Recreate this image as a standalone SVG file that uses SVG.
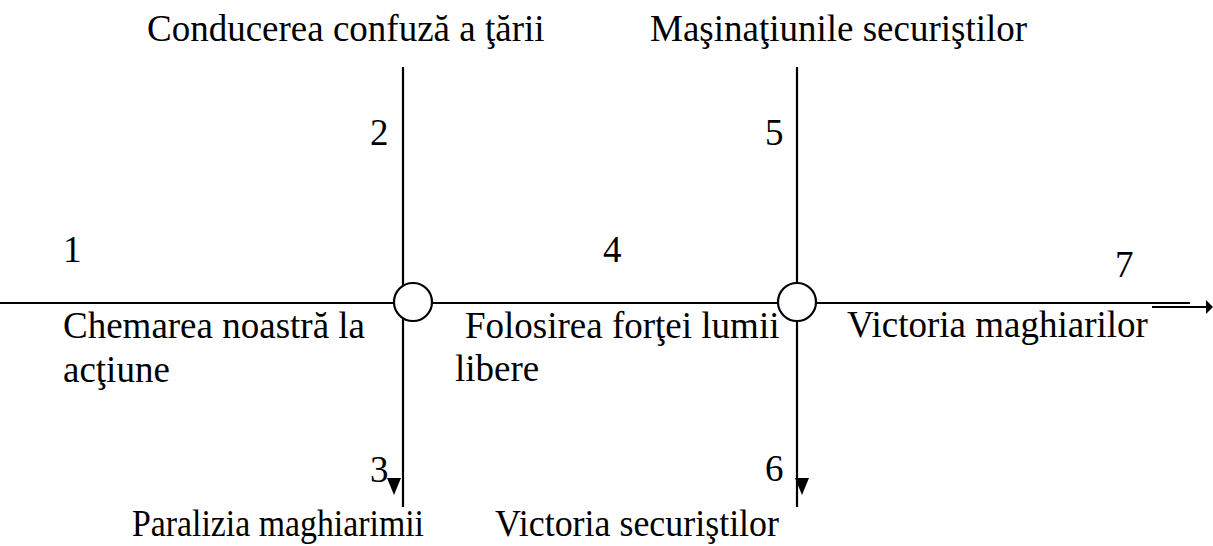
<svg xmlns="http://www.w3.org/2000/svg" width="1213" height="546" viewBox="0 0 1213 546">
<style>
text{font-family:"Liberation Serif","Times New Roman",serif;font-size:37px;fill:#000}
.ln{stroke:#000;stroke-width:2.2;fill:none}
.ah{fill:#000;stroke:none}
.nd{fill:#fff;stroke:#000;stroke-width:2.2}
</style>
<rect width="1213" height="546" fill="#fff"/>
<g id="connectors">
<line class="ln" x1="0" y1="303" x2="394" y2="303"/>
<line class="ln" x1="432" y1="303" x2="778" y2="303"/>
<line class="ln" x1="816" y1="303" x2="1190" y2="303"/>
<line class="ln" x1="1152" y1="307" x2="1208" y2="307"/>
<polygon class="ah" points="1206,300 1213,307 1206,314"/>
<line class="ln" x1="403" y1="67" x2="403" y2="507"/>
<polygon class="ah" points="387,478 401,478 394,495"/>
<line class="ln" x1="797" y1="67" x2="797" y2="507"/>
<polygon class="ah" points="795,478 809,478 802,495"/>
</g>
<g id="node-a"><circle class="nd" cx="413" cy="302" r="19"/></g>
<g id="node-b"><circle class="nd" cx="797" cy="302" r="19"/></g>
<g id="labels">
<text x="147" y="41">Conducerea confuză a ţării</text>
<text x="650" y="41">Maşinaţiunile securiştilor</text>
<text x="370" y="145">2</text>
<text x="765" y="145">5</text>
<text x="63" y="262">1</text>
<text x="603" y="262">4</text>
<text x="1115" y="277">7</text>
<text x="63" y="338">Chemarea noastră la</text>
<text x="63" y="382">acţiune</text>
<text x="465" y="338">Folosirea forţei lumii</text>
<text x="455" y="381">libere</text>
<text x="847" y="337">Victoria maghiarilor</text>
<text x="370" y="482">3</text>
<text x="765" y="481">6</text>
<text x="132" y="536" textLength="292" lengthAdjust="spacingAndGlyphs">Paralizia maghiarimii</text>
<text x="495" y="536" textLength="284" lengthAdjust="spacingAndGlyphs">Victoria securiştilor</text>
</g>
</svg>
